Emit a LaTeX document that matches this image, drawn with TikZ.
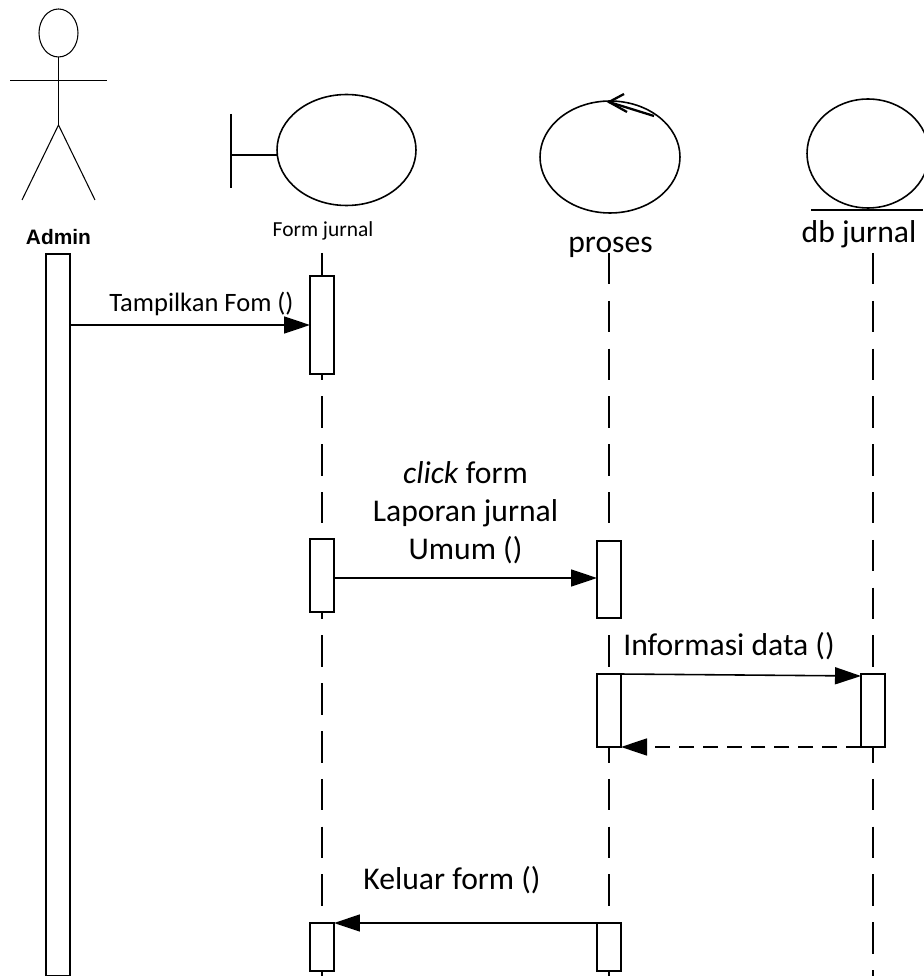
\documentclass[tikz,border=0pt]{standalone}
\usepackage{fontspec}
\setmainfont{Carlito}
\newfontfamily\adminfont{Liberation Sans}
\usetikzlibrary{arrows.meta,shapes.geometric}
\tikzset{
  actbox/.style={draw,fill=white,line width=0.9pt,minimum width=0.48cm,inner sep=0pt,outer sep=0pt},
  circlebox/.style={draw,ellipse,line width=0.9pt,inner sep=0pt,outer sep=0pt},
  lifeline/.style={line width=0.75pt,dash pattern=on 17.9pt off 9.31pt},
  msg/.style={line width=0.9pt,-{Triangle[length=0.52cm,width=0.34cm]}},
  label/.style={inner sep=0pt,font=\fontsize{18}{21.7}\selectfont}
}
\begin{document}
\begin{tikzpicture}[x=0.02cm,y=-0.02cm]
 \useasboundingbox (0,0) rectangle (923,976);
 % actor
 \node[circlebox,line width=0.6pt,minimum width=0.78cm,minimum height=0.96cm] (head) at (58.5,33) {};
 \coordinate (hip) at (58.5,125);
 \coordinate (armL) at (10,80.5);
 \coordinate (armR) at (107,80.5);
 \coordinate (legL) at (22,200);
 \coordinate (legR) at (95,200);
 \draw[line width=0.6pt] (head.south) -- (hip);
 \draw[line width=0.6pt] (armL) -- (armR);
 \draw[line width=0.6pt] (legL) -- (hip) -- (legR);
 \node[inner sep=0pt,font=\adminfont\bfseries\fontsize{11.9}{14}\selectfont] (admintxt) at (58.5,237) {Admin};
 % boundary
 \node[circlebox,minimum width=2.78cm,minimum height=2.22cm] (form) at (346.5,150) {};
 \coordinate (barT) at (231,114);
 \coordinate (barB) at (231,188);
 \coordinate (barM) at (231,155);
 \draw[line width=0.9pt] (barT) -- (barB);
 \draw[line width=0.9pt] (barM) -- (form.west |- barM);
 \node[inner sep=0pt,font=\fontsize{12.2}{14}\selectfont] (formtxt) at (323,231) {Form jurnal};
 % control
 \node[circlebox,minimum width=2.8cm,minimum height=2.24cm] (proses) at (610,157) {};
 \coordinate (tipA) at (609,102);
 \coordinate (tipB) at (654,116);
 \coordinate (tipC) at (624,94);
 \coordinate (tipD) at (627,112);
 \draw[line width=1.3pt] (tipB) -- (tipA);
 \draw[line width=1.3pt] (tipC) -- (tipA) -- (tipD);
 \node[label] (prosestxt) at (610.5,247.5) {proses};
 % entity
 \node[circlebox,minimum width=2.44cm,minimum height=2.18cm] (db) at (868,153.5) {};
 \coordinate (lineL) at (811,210);
 \coordinate (lineR) at (923,210);
 \draw[line width=0.9pt] (lineL) -- (lineR);
 \node[label] (dbtxt) at (859,234) {db jurnal};
 % lifelines
 \coordinate (formtop) at (322,253);
 \coordinate (prosestop) at (609,253);
 \coordinate (dbtop) at (873,253);
 \coordinate (formend) at (322,976);
 \coordinate (prosesend) at (609,976);
 \coordinate (dbend) at (873,976);
 \draw[lifeline] (formtop) -- (formend);
 \draw[lifeline] (prosestop) -- (prosesend);
 \draw[lifeline] (dbtop) -- (dbend);
 % activations
 \node[actbox,minimum height=14.44cm] (a1) at (58,615) {};
 \node[actbox,minimum height=1.96cm] (f1) at (322,325) {};
 \node[actbox,minimum height=1.46cm] (f2) at (322,575.5) {};
 \node[actbox,minimum height=0.96cm] (f3) at (322,947) {};
 \node[actbox,minimum height=1.54cm] (p2) at (609,579.5) {};
 \node[actbox,minimum height=1.46cm] (p3) at (609,710.5) {};
 \node[actbox,minimum height=0.96cm] (p4) at (609,947) {};
 \node[actbox,minimum height=1.46cm] (d1) at (873,710.5) {};
 % messages
 \coordinate (clickend) at (597,578);
 \coordinate (infoend) at (861,676);
 \draw[msg] (a1.east |- f1.west) -- (f1.west);
 \draw[msg] (f2.east |- clickend) -- (clickend);
 \draw[msg] (p3.north east) -- (infoend);
 \draw[msg,dash pattern=on 8.5pt off 5.1pt] (d1.south west) -- (p3.south east);
 \draw[msg] (p4.north west) -- (f3.north east);
 \node[label,font=\fontsize{15.1}{18}\selectfont] (m1) at (201.5,304) {Tampilkan Fom ()};
 \node[label,align=center] (m2) at (465.5,513) {\textit{click} form\\Laporan jurnal\\Umum ()};
 \node[label] (m3) at (729,646) {Informasi data ()};
 \node[label] (m4) at (452,880) {Keluar form ()};
\end{tikzpicture}
\end{document}
